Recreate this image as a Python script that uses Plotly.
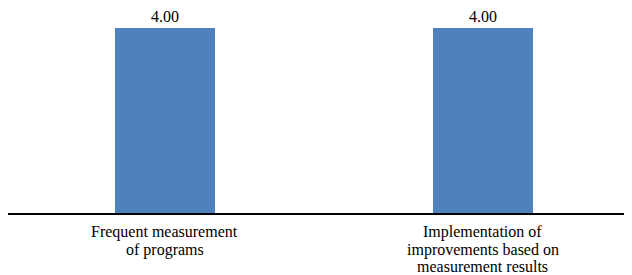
import plotly.graph_objects as go

categories = ["Frequent measurement<br>of programs",
              "Implementation of<br>improvements based on<br>measurement results"]
values = [4.00, 4.00]
value_labels = ["4.00", "4.00"]

FONT = "Liberation Serif"

fig = go.Figure(go.Bar(
    x=list(range(len(categories))), y=values,
    text=value_labels, textposition="outside", cliponaxis=False,
    marker=dict(color="#4F81BD", line=dict(width=0)),
    textfont=dict(family=FONT, size=16, color="#000000"),
    hoverinfo="skip",
))

# category labels, one annotation per line for tighter line spacing
for i, cat in enumerate(categories):
    for j, line in enumerate(cat.split("<br>")):
        fig.add_annotation(x=i, y=0, xref="x", yref="y", text=line,
                           showarrow=False, xanchor="center", yanchor="top",
                           yshift=-(8 + 17.5 * j),
                           font=dict(family=FONT, size=16, color="#000000"))

fig.update_layout(
    width=624, height=267,
    margin=dict(l=0, r=0, t=4, b=62, pad=0),
    paper_bgcolor="white", plot_bgcolor="white",
    bargap=0.6855,
    showlegend=False,
    font=dict(family=FONT, size=16, color="#000000"),
)
fig.update_xaxes(range=[-0.4937, 1.4686], showline=True, linecolor="#000000", linewidth=2,
                 ticks="", showticklabels=False, showgrid=False, zeroline=False)
fig.update_yaxes(range=[0, 4.346], visible=False, showgrid=False, zeroline=False)

fig.write_html("out.html")
